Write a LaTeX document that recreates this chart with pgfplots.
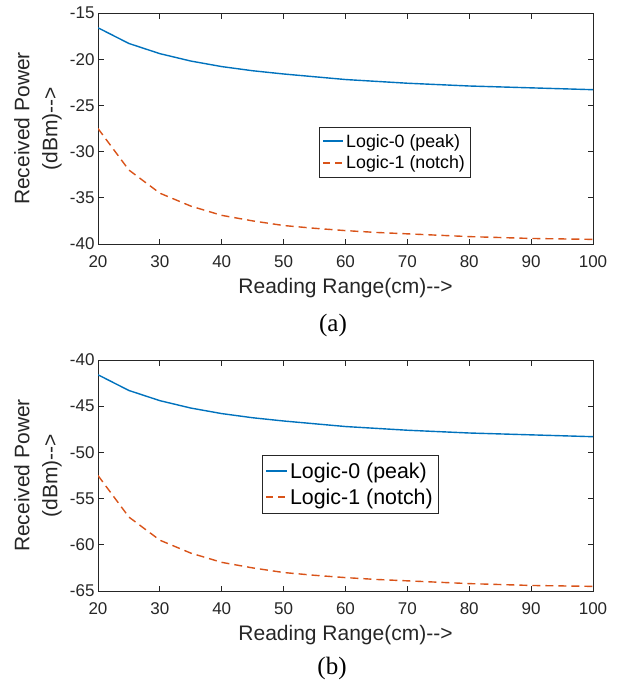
\documentclass[border=0pt]{standalone}
\usepackage{pgfplots}
\pgfplotsset{compat=1.18}
\usepackage{fontspec}
\setmainfont{Liberation Sans}
\newfontfamily\seriffont{Liberation Serif}
\definecolor{mblue}{rgb}{0,0.447,0.741}
\definecolor{mred}{rgb}{0.85,0.325,0.098}
\definecolor{axgray}{rgb}{0.15,0.15,0.15}

\pgfplotstableread{
x a b
20 -16.6 -27.5
25 -18.3 -32.0
30 -19.4 -34.5
35 -20.2 -35.9
40 -20.8 -36.9
45 -21.25 -37.5
50 -21.6 -38.0
55 -21.9 -38.3
60 -22.2 -38.55
65 -22.4 -38.75
70 -22.6 -38.9
75 -22.75 -39.05
80 -22.9 -39.2
85 -23.0 -39.3
90 -23.1 -39.4
95 -23.2 -39.45
100 -23.3 -39.5
}\topdata

\pgfplotstableread{
x a b
20 -41.6 -52.5
25 -43.3 -57.0
30 -44.4 -59.5
35 -45.2 -60.9
40 -45.8 -61.9
45 -46.25 -62.5
50 -46.6 -63.0
55 -46.9 -63.3
60 -47.2 -63.55
65 -47.4 -63.75
70 -47.6 -63.9
75 -47.75 -64.05
80 -47.9 -64.2
85 -48.0 -64.3
90 -48.1 -64.4
95 -48.2 -64.45
100 -48.3 -64.5
}\botdata

\newcommand{\arr}{-\kern0pt-\kern0pt>}

\pgfplotsset{
  mystyle/.style={
    scale only axis, width=495pt, height=231pt,
    xmin=20, xmax=100, xtick={20,30,...,100},
    tick align=inside, major tick length=5.5pt,
    axis line style={axgray, line width=0.8pt},
    every tick/.style={axgray, line width=0.8pt},
    tick label style={font=\fontsize{17}{20}\selectfont, text=axgray},
    xticklabel style={yshift=-8pt},
    /pgf/number format/assume math mode=true,
    xlabel={Reading Range(cm)\arr},
    ylabel={Received Power\\(dBm)\arr},
    label style={font=\fontsize{21}{28}\selectfont, text=axgray},
    xlabel style={at={(axis description cs:0.5,-0.1905)}, anchor=center},
    ylabel style={at={(axis description cs:-0.1212,0.5)}, anchor=center, align=center},
    legend cell align=left,
  },
  blueline/.style={mblue, line width=1.4pt},
  redline/.style={mred, line width=1.4pt, dash pattern=on 8pt off 5pt},
}

\begin{document}
\begin{tikzpicture}
\useasboundingbox (0,0) rectangle (622pt,-688pt);
\begin{axis}[mystyle, at={(98pt,-244pt)}, anchor=south west,
  ymin=-40, ymax=-15, ytick={-40,-35,...,-15},
  legend style={at={(axis description cs:0.4465,0.5065)}, anchor=north west,
    font=\fontsize{17.8}{21}\selectfont, draw=axgray, text=black,
    row sep=3pt, inner ysep=5pt}]
\addplot[blueline, legend image code/.code={\draw[mblue, line width=2pt] (0pt,0pt) -- (20pt,0pt);}] table[x=x,y=a] {\topdata};
\addlegendentry{Logic-0 (peak)}
\addplot[redline, legend image code/.code={\draw[mred, line width=2pt, dash pattern=on 7pt off 5pt] (0pt,0pt) -- (20pt,0pt);}] table[x=x,y=b] {\topdata};
\addlegendentry{Logic-1 (notch)}
\end{axis}
\node[font=\seriffont\fontsize{25}{30}\selectfont] at (333pt,-325pt) {(a)};

\begin{axis}[mystyle, at={(98pt,-591pt)}, anchor=south west,
  ymin=-65, ymax=-40, ytick={-65,-60,...,-40},
  legend style={at={(axis description cs:0.331,0.589)}, anchor=north west,
    font=\fontsize{21.4}{26}\selectfont, draw=axgray, text=black,
    row sep=5pt, inner ysep=5.5pt}]
\addplot[blueline, legend image code/.code={\draw[mblue, line width=2pt] (0pt,0pt) -- (21pt,0pt);}] table[x=x,y=a] {\botdata};
\addlegendentry{Logic-0 (peak)}
\addplot[redline, legend image code/.code={\draw[mred, line width=2pt, dash pattern=on 7pt off 5pt] (0pt,0pt) -- (21pt,0pt);}] table[x=x,y=b] {\botdata};
\addlegendentry{Logic-1 (notch)}
\end{axis}
\node[font=\seriffont\fontsize{25}{30}\selectfont] at (332pt,-668pt) {(b)};
\end{tikzpicture}
\end{document}
